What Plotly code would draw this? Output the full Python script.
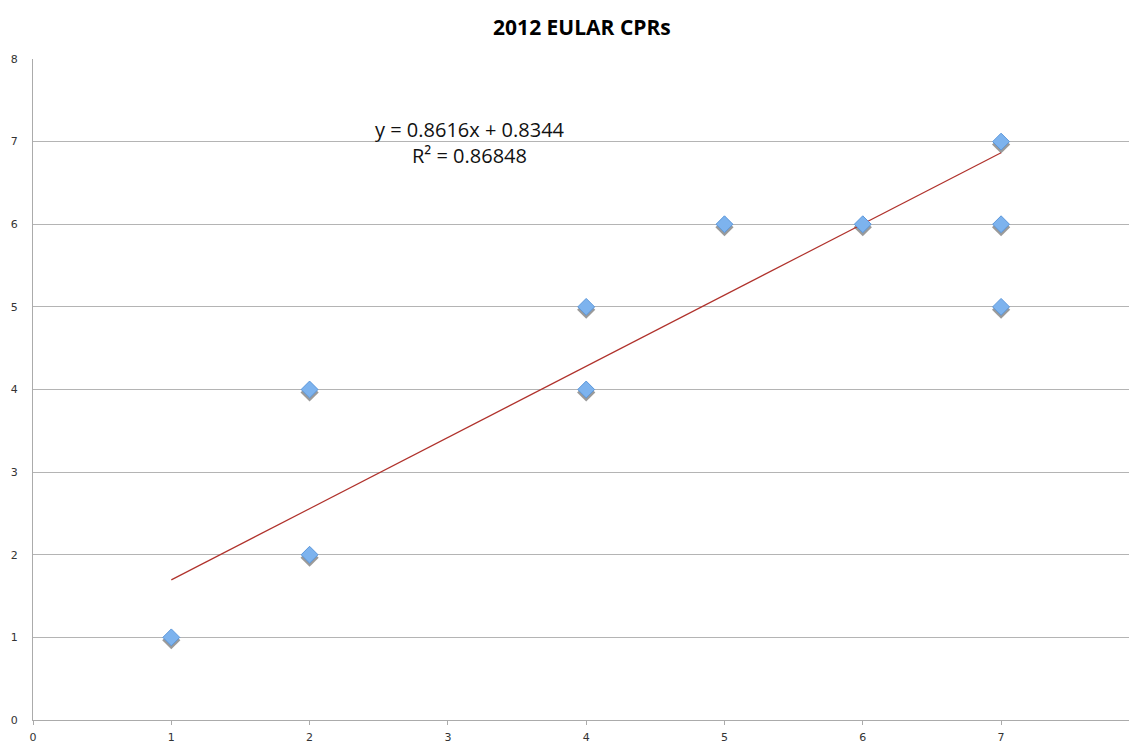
import plotly.graph_objects as go

# Data
x_vals = [1, 2, 2, 4, 4, 5, 6, 7, 7, 7]
y_vals = [1, 4, 2, 5, 4, 6, 6, 7, 6, 5]
slope = 0.8616
intercept = 0.8344
r_squared = 0.86848
trend_x = [1, 7]
trend_y = [slope * v + intercept for v in trend_x]
x_ticks = [0, 1, 2, 3, 4, 5, 6, 7]
y_ticks = [0, 1, 2, 3, 4, 5, 6, 7, 8]

fig = go.Figure()

# shadow
fig.add_trace(go.Scatter(
    x=x_vals, y=[v - 0.035 for v in y_vals], mode="markers",
    marker=dict(symbol="diamond", size=14, color="rgba(30,30,30,0.45)", line=dict(width=0)),
    hoverinfo="skip", showlegend=False))

fig.add_trace(go.Scatter(
    x=trend_x, y=trend_y, mode="lines",
    line=dict(color="#B0322C", width=1.2), showlegend=False))

fig.add_trace(go.Scatter(
    x=x_vals, y=y_vals, mode="markers",
    marker=dict(symbol="diamond", size=13, color="#7DB3EE",
                line=dict(color="#5B97DB", width=1)),
    showlegend=False))

fig.add_annotation(
    x=3.16, y=6.995, xref="x", yref="y",
    text=f"y = {slope}x + {intercept}<br>R² = {r_squared}",
    showarrow=False, align="center",
    font=dict(family="Open Sans, Lato, sans-serif", size=20, color="#111"))

fig.update_layout(
    width=1121, height=737,
    margin=dict(l=25, r=0, t=51, b=25),
    paper_bgcolor="white", plot_bgcolor="white",
    title=dict(text="<b>2012 EULAR CPRs</b>", x=0.512, xanchor="center", y=0.974, yanchor="middle",
               font=dict(family="Open Sans, Lato, sans-serif", size=21, color="#000")),
    xaxis=dict(range=[0, 7.925], tickvals=x_ticks, showgrid=False, zeroline=False,
               showline=True, linecolor="#ababab", linewidth=1, automargin=False,
               ticks="outside", ticklen=4, tickcolor="#ababab", ticklabelstandoff=3,
               tickfont=dict(family="DejaVu Sans, sans-serif", size=11, color="#333")),
    yaxis=dict(range=[0, 8], tickvals=y_ticks, showgrid=True, gridcolor="#b4b4b4", gridwidth=1,
               zeroline=False, showline=True, linecolor="#ababab", linewidth=1, automargin=False,
               ticks="", ticklabelstandoff=12,
               tickfont=dict(family="DejaVu Sans, sans-serif", size=11, color="#333")),
)

fig.write_html("out.html")
